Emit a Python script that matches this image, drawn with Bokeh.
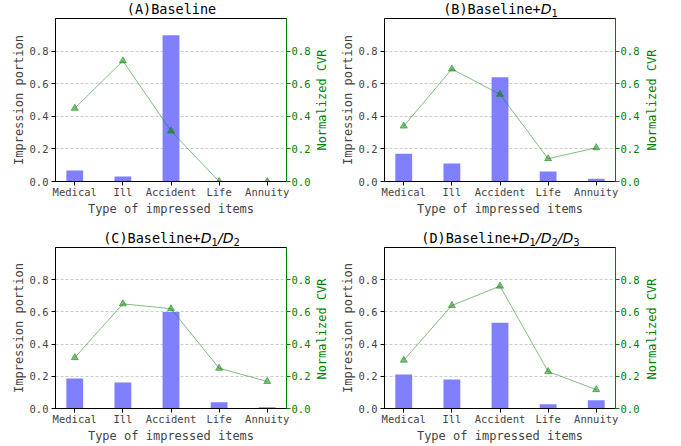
from bokeh.plotting import figure
from bokeh.models import Range1d, LinearAxis, FixedTicker, PrintfTickFormatter, Div
from bokeh.layouts import column, row
from bokeh.embed import file_html
from bokeh.resources import INLINE

categories = ["Medical", "Ill", "Accident", "Life", "Annuity"]
y_ticks = [0.0, 0.2, 0.4, 0.6, 0.8]

imp_A = [0.068, 0.030, 0.898, 0.0, 0.0]
cvr_A = [0.449, 0.740, 0.310, 0.0, 0.0]
imp_B = [0.170, 0.110, 0.640, 0.062, 0.017]
cvr_B = [0.340, 0.690, 0.535, 0.140, 0.207]
imp_C = [0.187, 0.162, 0.600, 0.039, 0.008]
cvr_C = [0.316, 0.650, 0.620, 0.250, 0.168]
imp_D = [0.211, 0.180, 0.533, 0.027, 0.051]
cvr_D = [0.300, 0.640, 0.760, 0.230, 0.117]

title_plain = {"A": "(A)Baseline", "B": "(B)Baseline+", "C": "(C)Baseline+", "D": "(D)Baseline+"}
title_subs = {"A": [], "B": ["1"], "C": ["1", "2"], "D": ["1", "2", "3"]}
right_label = "Normalized CVR"

MONO = "DejaVu Sans Mono"
GREEN = "#008000"
FRAME_W = 233
FRAME_H = 163


def title_div(key, width, mb_left, height, top):
    it = "font-family:'DejaVu Sans';font-style:italic;font-weight:normal;font-size:14px"
    sub = "font-family:'DejaVu Sans';font-weight:normal;font-size:10px;position:relative;top:3px"
    parts = []
    for i, s in enumerate(title_subs[key]):
        if i > 0:
            parts.append('<span style="%s">/</span>' % it)
        parts.append('<span style="%s">D</span><span style="%s">%s</span>' % (it, sub, s))
    html = ('<div style="position:absolute;left:%dpx;top:%dpx;width:%dpx;'
            'text-align:center;white-space:nowrap;font-family:\'DejaVu Sans Mono\';'
            'font-weight:normal;font-size:13.5px;line-height:16px;color:black">%s%s</div>'
            % (mb_left, top, FRAME_W, title_plain[key], "".join(parts)))
    return Div(text=html, width=width, height=height, margin=0,
               styles={"position": "relative", "overflow": "visible"})


def side_div(width, height, center, frame_top):
    html = ('<div style="position:absolute;left:0px;top:%dpx;width:%.1fpx;height:%dpx;'
            'display:flex;align-items:center;justify-content:center;overflow:visible">'
            '<span style="display:inline-block;transform:rotate(-90deg);white-space:nowrap;'
            'font-family:\'DejaVu Sans Mono\';font-size:12px;line-height:14px;color:%s">%s</span></div>'
            % (frame_top, 2 * center, FRAME_H, GREEN, right_label))
    return Div(text=html, width=width, height=height, margin=0,
               styles={"position": "relative", "overflow": "visible"})


def make_panel(imp, cvr, width, mb_left, mb_right, height, mb_top, mb_bottom):
    p = figure(width=width, height=height, output_backend="svg", toolbar_location=None,
               title=None, x_range=Range1d(-0.4, 4.4), y_range=Range1d(0, 1.0),
               min_border_left=mb_left, min_border_right=mb_right,
               min_border_top=mb_top, min_border_bottom=mb_bottom)
    p.background_fill_color = "white"
    p.border_fill_color = "white"
    p.outline_line_color = "black"
    p.outline_line_width = 1
    p.xgrid.visible = False
    p.ygrid.ticker = FixedTicker(ticks=y_ticks[1:])
    p.ygrid.grid_line_color = "#cccccc"
    p.ygrid.grid_line_dash = "3 2"
    p.ygrid.grid_line_width = 1

    xs = list(range(len(categories)))
    p.extra_y_ranges = {"cvr": Range1d(0, 1.0)}

    p.vbar(x=xs, top=imp, width=0.35, fill_color="#8080ff", line_color=None)
    p.line(x=xs, y=cvr, y_range_name="cvr", line_color=GREEN, line_alpha=0.5, line_width=1)
    p.scatter(x=xs, y=cvr, y_range_name="cvr", marker="triangle", size=7,
              fill_color=GREEN, fill_alpha=0.5, line_color=GREEN, line_alpha=0.5)

    xa = p.xaxis[0]
    xa.ticker = FixedTicker(ticks=xs)
    xa.major_label_overrides = {i: c for i, c in enumerate(categories)}
    xa.axis_label = "Type of impressed items"
    xa.minor_tick_line_color = None
    xa.major_tick_in = 0
    xa.major_tick_out = 4
    xa.major_label_standoff = 0
    xa.axis_label_standoff = 1
    xa.major_label_text_font = MONO
    xa.major_label_text_font_size = "10.5px"
    xa.axis_label_text_font = MONO
    xa.axis_label_text_font_size = "12px"
    xa.axis_label_text_font_style = "normal"
    xa.axis_line_color = "black"

    ya = p.yaxis[0]
    ya.ticker = FixedTicker(ticks=y_ticks)
    ya.formatter = PrintfTickFormatter(format="%.1f")
    ya.axis_label = "Impression portion"
    ya.minor_tick_line_color = None
    ya.major_tick_in = 0
    ya.major_tick_out = 4
    ya.major_label_standoff = 3
    ya.axis_label_standoff = 1
    ya.major_label_text_font = MONO
    ya.major_label_text_font_size = "10.5px"
    ya.axis_label_text_font = MONO
    ya.axis_label_text_font_size = "12px"
    ya.axis_label_text_font_style = "normal"
    ya.axis_line_color = "black"

    ra = LinearAxis(y_range_name="cvr", ticker=FixedTicker(ticks=y_ticks),
                    formatter=PrintfTickFormatter(format="%.1f"))
    ra.minor_tick_line_color = None
    ra.major_tick_in = 0
    ra.major_tick_out = 4
    ra.major_label_standoff = 1
    ra.major_label_text_font = MONO
    ra.major_label_text_font_size = "10.5px"
    ra.major_label_text_color = GREEN
    ra.axis_line_color = GREEN
    ra.major_tick_line_color = GREEN
    p.add_layout(ra, "right")
    return p


# row 1
pA = make_panel(imp_A, cvr_A, 313, 55, 25, 213, 1, 49)
dA = side_div(22, 213, 8.7, 1)
pB = make_panel(imp_B, cvr_B, 307, 49, 25, 213, 1, 49)
dB = side_div(38, 213, 9.7, 1)
tA = title_div("A", 335, 55, 17, 1)
tB = title_div("B", 345, 49, 17, 1)

# row 2
pC = make_panel(imp_C, cvr_C, 313, 55, 25, 199, 1, 35)
dC = side_div(22, 199, 8.7, 1)
pD = make_panel(imp_D, cvr_D, 307, 49, 25, 199, 1, 35)
dD = side_div(38, 199, 9.7, 1)
tC = title_div("C", 335, 55, 16, 0)
tD = title_div("D", 345, 49, 16, 0)

layout = column(row(tA, tB), row(pA, dA, pB, dB), row(tC, tD), row(pC, dC, pD, dD))
open("out.html", "w").write(file_html(layout, INLINE))
